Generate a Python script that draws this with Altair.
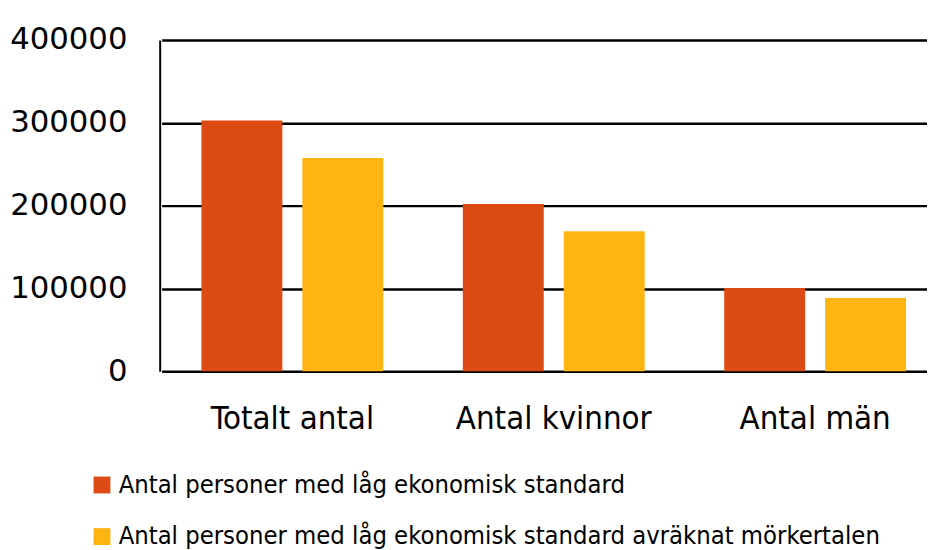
import altair as alt
import pandas as pd

categories = ["Totalt antal", "Antal kvinnor", "Antal män"]
series = [
    "Antal personer med låg ekonomisk standard",
    "Antal personer med låg ekonomisk standard avräknat mörkertalen",
]
values_a = [303000, 202000, 100500]
values_b = [257500, 169000, 88500]
colors = ["#DD4B15", "#FEB512"]
y_ticks = [0, 100000, 200000, 300000, 400000]

rows = []
for c, a, b in zip(categories, values_a, values_b):
    rows.append({"kategori": c, "serie": series[0], "antal": a})
    rows.append({"kategori": c, "serie": series[1], "antal": b})
df = pd.DataFrame(rows)

FONT = "DejaVu Sans Condensed"

chart = (
    alt.Chart(df)
    .mark_bar()
    .encode(
        x=alt.X(
            "kategori:N",
            sort=categories,
            scale=alt.Scale(range=[2, 793], paddingInner=0, paddingOuter=0),
            axis=alt.Axis(
                title=None, labelAngle=0, labelFontSize=33, labelPadding=32,
                ticks=False, domain=False, labelColor="black", labelFont=FONT,
                grid=False, labelLimit=0,
            ),
        ),
        xOffset=alt.XOffset(
            "serie:N", sort=series,
            scale=alt.Scale(paddingInner=0.198, paddingOuter=0.394),
        ),
        y=alt.Y(
            "antal:Q",
            scale=alt.Scale(domain=[0, 400000]),
            axis=alt.Axis(
                title=None, values=y_ticks, format="d", labelFontSize=31,
                labelPadding=33, ticks=False, domain=True, domainColor="black",
                domainWidth=2, grid=True, gridColor="black", gridWidth=2.5,
                gridOpacity=1, labelColor="black", labelFont="DejaVu Sans",
            ),
        ),
        color=alt.Color(
            "serie:N", sort=series,
            scale=alt.Scale(domain=series, range=colors),
            legend=alt.Legend(
                title=None, orient="none", legendX=-71, legendY=436,
                direction="vertical", symbolType="square", symbolSize=289,
                symbolStrokeWidth=0, labelFontSize=25.6, labelFont=FONT,
                labelColor="black", labelLimit=0, rowPadding=25, labelOffset=4,
            ),
        ),
    )
    .properties(
        width=774, height=334,
        autosize=alt.AutoSizeParams(type="none"),
        padding={"left": 153, "top": 30, "right": 0, "bottom": 178},
    )
    .configure_view(stroke=None)
)

chart.save("out.html", embed_options={"renderer": "svg", "actions": False})
